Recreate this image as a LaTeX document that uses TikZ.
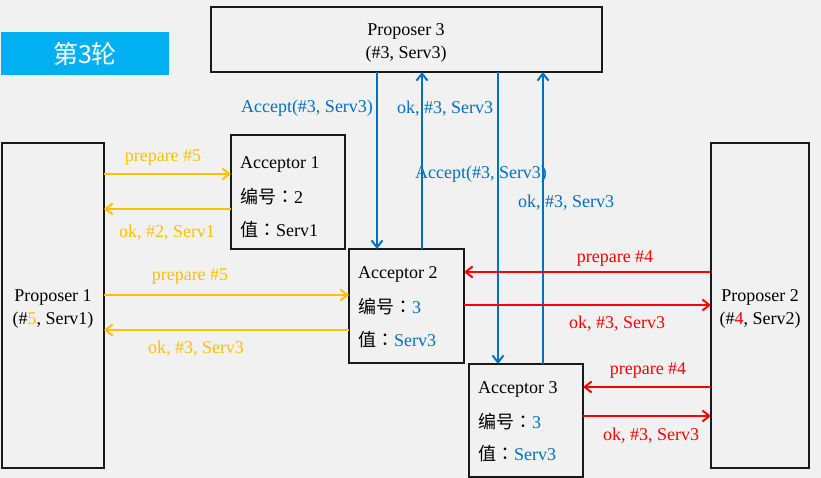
\documentclass[tikz,border=0pt]{standalone}
\usepackage{fontspec}
\setmainfont{Liberation Serif}
\newfontfamily\cjk{Noto Sans CJK SC}
\newfontfamily\cjkjp{Noto Sans CJK JP}
\usetikzlibrary{arrows.meta}
\definecolor{bg}{HTML}{F1F1F1}
\definecolor{ylw}{HTML}{FFC000}
\definecolor{blu}{HTML}{0070C0}
\definecolor{rd}{HTML}{FF0000}
\definecolor{ban}{HTML}{00B0F0}
\newcommand{\fwc}{{\cjkjp ：}}
\begin{document}
\begin{tikzpicture}[x=1pt,y=-1pt,
  font=\fontsize{18}{23}\selectfont,
  box/.style={draw=black!90, line width=2.5pt, anchor=north west, inner sep=0pt, outer sep=0pt},
  ptxt/.style={inner sep=0pt, align=center},
  txt/.style={anchor=west, inner sep=0pt},
  lab/.style={inner sep=0pt, anchor=center},
  conn/.style={line width=2pt, -{Straight Barb[length=7pt,width=11pt,line width=2pt]}},
  yarr/.style={conn, draw=ylw},
  barr/.style={conn, draw=blu},
  rarr/.style={conn, draw=rd}]
\useasboundingbox[fill=bg] (0,0) rectangle (821,478);

% banner
\node[fill=ban, minimum width=168pt, minimum height=43pt, anchor=north west, inner sep=0pt, outer sep=0pt, text=white] (ban) at (1,32) {\cjk\fontsize{25}{25}\selectfont 第3轮};

% proposers
\node[box, minimum width=391pt, minimum height=65pt] (p3) at (211,7) {};
\node[box, minimum width=102pt, minimum height=325pt] (p1) at (2,143) {};
\node[box, minimum width=98pt, minimum height=325pt] (p2) at (711,143) {};
\node[ptxt] (p3t) at (406,42.5) {Proposer 3\\(\#3, Serv3)};
\node[ptxt] (p1t) at (53,309) {Proposer 1\\(\#{\color{ylw}5}, Serv1)};
\node[ptxt] (p2t) at (760,309) {Proposer 2\\(\#{\color{rd}4}, Serv2)};

% acceptors
\node[box, minimum width=114pt, minimum height=114pt] (a1) at (231,135) {};
\node[box, minimum width=115pt, minimum height=114pt] (a2) at (349,249) {};
\node[box, minimum width=114pt, minimum height=113pt] (a3) at (469,364) {};

\node[txt] (a1t1) at (240,164) {Acceptor 1};
\node[txt] (a1t2) at (240,197) {{\cjk 编号}\fwc 2};
\node[txt] (a1t3) at (240,230) {{\cjk 值}\fwc Serv1};

\node[txt] (a2t1) at (358,274) {Acceptor 2};
\node[txt] (a2t2) at (358,307) {{\cjk 编号}\fwc{\color{blu}3}};
\node[txt] (a2t3) at (358,340) {{\cjk 值}\fwc{\color{blu}Serv3}};

\node[txt] (a3t1) at (478,389) {Acceptor 3};
\node[txt] (a3t2) at (478,422) {{\cjk 编号}\fwc{\color{blu}3}};
\node[txt] (a3t3) at (478,454) {{\cjk 值}\fwc{\color{blu}Serv3}};

% yellow connectors (Proposer 1)
\draw[yarr] ([yshift=-31pt]p1.north east) -- ([yshift=-31pt]p1.north east -| a1.west);
\draw[yarr] ([yshift=-74pt]a1.north west) -- ([yshift=-74pt]a1.north west -| p1.east);
\draw[yarr] ([yshift=-152pt]p1.north east) -- ([yshift=-152pt]p1.north east -| a2.west);
\draw[yarr] ([yshift=-81pt]a2.north west) -- ([yshift=-81pt]a2.north west -| p1.east);

% blue connectors (Proposer 3)
\draw[barr] ([xshift=166pt]p3.south west) -- ([xshift=166pt]p3.south west |- a2.north);
\draw[barr] ([xshift=73pt]a2.north west) -- ([xshift=73pt]a2.north west |- p3.south);
\draw[barr] ([xshift=287pt]p3.south west) -- ([xshift=287pt]p3.south west |- a3.north);
\draw[barr] ([xshift=74pt]a3.north west) -- ([xshift=74pt]a3.north west |- p3.south);

% red connectors (Proposer 2)
\draw[rarr] ([yshift=-129pt]p2.north west) -- ([yshift=-129pt]p2.north west -| a2.east);
\draw[rarr] ([yshift=-56pt]a2.north east) -- ([yshift=-56pt]a2.north east -| p2.west);
\draw[rarr] ([yshift=-244pt]p2.north west) -- ([yshift=-244pt]p2.north west -| a3.east);
\draw[rarr] ([yshift=-52pt]a3.north east) -- ([yshift=-52pt]a3.north east -| p2.west);

% labels
\node[lab, text=ylw] (l1) at (163,157.5) {prepare \#5};
\node[lab, text=ylw] (l2) at (167,233) {ok, \#2, Serv1};
\node[lab, text=ylw] (l3) at (190,276.5) {prepare \#5};
\node[lab, text=ylw] (l4) at (196,348.5) {ok, \#3, Serv3};

\node[lab, text=blu] (l5) at (307,108) {Accept(\#3, Serv3)};
\node[lab, text=blu] (l6) at (445,109) {ok, \#3, Serv3};
\node[lab, text=blu] (l7) at (481,174.5) {Accept(\#3, Serv3)};
\node[lab, text=blu] (l8) at (566,202.5) {ok, \#3, Serv3};

\node[lab, text=rd] (l9) at (615,258.5) {prepare \#4};
\node[lab, text=rd] (l10) at (617,323.5) {ok, \#3, Serv3};
\node[lab, text=rd] (l11) at (648,370.5) {prepare \#4};
\node[lab, text=rd] (l12) at (651,435.5) {ok, \#3, Serv3};
\end{tikzpicture}
\end{document}
